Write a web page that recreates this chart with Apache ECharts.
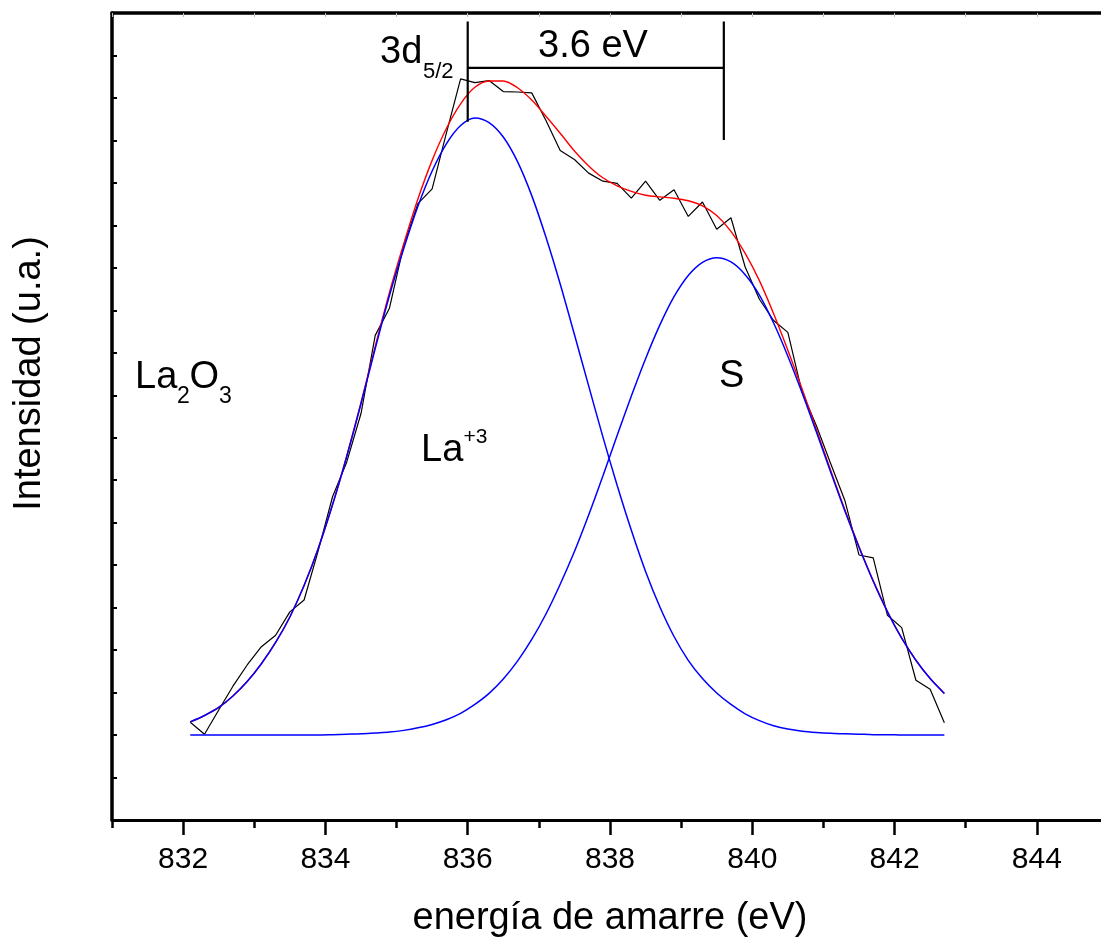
<!DOCTYPE html>
<html>
<head>
<meta charset="utf-8">
<title>La 3d5/2 XPS</title>
<script src="https://cdn.jsdelivr.net/npm/echarts@6/dist/echarts.min.js"></script>
<style>
  html, body { margin: 0; padding: 0; background: #fff; }
  #chart { width: 1101px; height: 944px; }
</style>
</head>
<body>
<div id="chart"></div>
<script>
// Binding energy grid (eV)
const energy = [832.1, 832.3, 832.5, 832.7, 832.9, 833.1, 833.3, 833.5, 833.7, 833.9,
  834.1, 834.3, 834.5, 834.7, 834.9, 835.1, 835.3, 835.5, 835.7, 835.9,
  836.1, 836.3, 836.5, 836.7, 836.9, 837.1, 837.3, 837.5, 837.7, 837.9,
  838.1, 838.3, 838.5, 838.7, 838.9, 839.1, 839.3, 839.5, 839.7, 839.9,
  840.1, 840.3, 840.5, 840.7, 840.9, 841.1, 841.3, 841.5, 841.7, 841.9,
  842.1, 842.3, 842.5, 842.7];

// Measured spectrum (arb. units)
const measured = [2.30, 2.02, 2.59, 3.15, 3.65, 4.08, 4.35, 4.90, 5.18, 6.35,
  7.61, 8.43, 9.57, 11.41, 12.05, 13.53, 14.51, 14.86, 16.17, 17.45,
  17.36, 17.41, 17.15, 17.14, 17.12, 16.47, 15.76, 15.55, 15.23, 15.04,
  14.99, 14.64, 15.04, 14.59, 14.84, 14.21, 14.55, 13.91, 14.18, 13.02,
  12.26, 11.76, 11.48, 10.07, 9.29, 8.40, 7.53, 6.24, 6.17, 4.82,
  4.53, 3.29, 3.08, 2.29];

// La+3 component
const la3 = [2.31, 2.46, 2.65, 2.92, 3.26, 3.68, 4.18, 4.78, 5.52, 6.40,
  7.42, 8.56, 9.80, 11.10, 12.35, 13.45, 14.45, 15.28, 15.92, 16.35,
  16.53, 16.42, 16.08, 15.50, 14.70, 13.72, 12.62, 11.43, 10.22, 9.02,
  7.88, 6.82, 5.85, 5.02, 4.32, 3.76, 3.33, 2.99, 2.72, 2.50,
  2.34, 2.22, 2.14, 2.09, 2.06, 2.04, 2.03, 2.02, 2.01, 2.01,
  2.00, 2.00, 2.00, 2.00];

// Satellite (S) component
const satellite = [2.00, 2.00, 2.00, 2.00, 2.00, 2.00, 2.00, 2.00, 2.00, 2.00,
  2.01, 2.02, 2.03, 2.05, 2.07, 2.11, 2.17, 2.25, 2.36, 2.51,
  2.72, 2.98, 3.32, 3.74, 4.25, 4.85, 5.55, 6.32, 7.18, 8.10,
  9.05, 9.98, 10.86, 11.65, 12.32, 12.82, 13.13, 13.24, 13.14, 12.84,
  12.36, 11.70, 10.92, 10.06, 9.14, 8.20, 7.28, 6.42, 5.62, 4.90,
  4.28, 3.76, 3.33, 2.98];

// Fitted envelope
const envelope = [2.31, 2.46, 2.65, 2.92, 3.26, 3.68, 4.18, 4.78, 5.52, 6.40,
  7.43, 8.58, 9.83, 11.15, 12.42, 13.56, 14.62, 15.53, 16.28, 16.86,
  17.25, 17.40, 17.40, 17.24, 16.95, 16.57, 16.17, 15.75, 15.40, 15.12,
  14.93, 14.80, 14.71, 14.67, 14.64, 14.58, 14.46, 14.23, 13.86, 13.34,
  12.70, 11.92, 11.06, 10.15, 9.20, 8.24, 7.31, 6.44, 5.63, 4.91,
  4.28, 3.76, 3.33, 2.98];

// Axis ticks
const xMajorTicks = [832, 834, 836, 838, 840, 842, 844];
const xMinorTicks = [831, 833, 835, 837, 839, 841, 843, 845];

// Spin-orbit splitting bracket
const splitStart = 836.0;
const splitting = 3.6;
const bracketTop = 18.8;
const bracketBar = 17.71;
const bracketLeftBottom = 16.44;
const bracketRightBottom = 16.01;

const FONT = '"Liberation Sans", Arial, Helvetica, sans-serif';
const zip = ys => energy.map((x, i) => [x, ys[i]]);
const splitEnd = splitStart + splitting;

function piece(text, x, baseline, size, align) {
  return {
    type: 'text', x: x, y: baseline - 0.31 * size, z: 100,
    style: { text: text, fill: '#000', font: size + 'px ' + FONT,
             align: align || 'left', verticalAlign: 'middle' }
  };
}

const chart = echarts.init(document.getElementById('chart'), null, { renderer: 'canvas' });

const bracketStyle = { color: '#000', width: 2.2 };
const lineSeries = (data, color, width, smooth, z) => ({
  type: 'line', data: data, showSymbol: false, symbol: 'none',
  smooth: smooth, lineStyle: { color: color, width: width }, z: z, silent: true
});
const segment = (a, b) => ({
  type: 'line', data: [a, b], showSymbol: false, symbol: 'none',
  lineStyle: bracketStyle, z: 5, silent: true
});

chart.setOption({
  animation: false,
  backgroundColor: '#fff',
  // the frame runs past the right edge of the canvas, so no bounds clamping
  grid: { left: 112, top: 13, width: 996, bottom: 124, containLabel: false, outerBoundsMode: 'none' },
  xAxis: [
    {
      type: 'value', min: 831, max: 845, position: 'bottom',
      axisLine: { onZero: false, lineStyle: { color: '#000', width: 3 } },
      axisTick: { customValues: xMajorTicks, length: 15, lineStyle: { color: '#000', width: 2.5 } },
      axisLabel: { customValues: xMajorTicks, fontSize: 30, fontFamily: FONT, color: '#000', margin: 25 },
      splitLine: { show: false },
      name: 'energía de amarre (eV)', nameLocation: 'middle', nameGap: 80,
      nameTextStyle: { fontSize: 38, fontFamily: FONT, color: '#000' }
    },
    {
      type: 'value', min: 831, max: 845, position: 'bottom',
      axisLine: { show: false, onZero: false },
      axisTick: { customValues: xMinorTicks, length: 8, lineStyle: { color: '#000', width: 2.5 } },
      axisLabel: { show: false },
      splitLine: { show: false }
    },
    {
      type: 'value', min: 831, max: 845, interval: 1, position: 'top',
      axisLine: { onZero: false, lineStyle: { color: '#000', width: 3.5 } },
      axisTick: { inside: true, length: 4, lineStyle: { color: '#bdbdbd', width: 1 } },
      axisLabel: { show: false },
      splitLine: { show: false }
    }
  ],
  yAxis: {
    type: 'value', min: 0, max: 19, interval: 1, position: 'left',
    axisLine: { onZero: false, lineStyle: { color: '#000', width: 3.5 } },
    axisTick: { inside: true, length: 5, lineStyle: { color: '#000', width: 2 } },
    axisLabel: { show: false },
    splitLine: { show: false }
  },
  series: [
    lineSeries(zip(measured), '#000000', 1.2, false, 2),
    lineSeries(zip(envelope), '#ff0000', 1.4, 0.3, 3),
    lineSeries(zip(la3), '#0000ff', 1.5, 0.3, 4),
    lineSeries(zip(satellite), '#0000ff', 1.5, 0.3, 4),
    segment([splitStart, bracketTop], [splitStart, bracketLeftBottom]),
    segment([splitEnd, bracketTop], [splitEnd, bracketRightBottom]),
    segment([splitStart, bracketBar], [splitEnd, bracketBar])
  ],
  graphic: [
    {
      type: 'text', x: 30, y: 373.5, rotation: Math.PI / 2, z: 100,
      style: { text: 'Intensidad (u.a.)', fill: '#000', font: '38px ' + FONT,
               align: 'center', verticalAlign: 'middle' }
    },
    piece('La', 135, 389.5, 38),
    piece('2', 177, 403.3, 23),
    piece('O', 189.5, 389.5, 38),
    piece('3', 219, 403.3, 23),
    piece('3d', 380, 64, 38),
    piece('5/2', 423, 79, 22),
    piece('La', 421, 462.7, 38),
    piece('+3', 463.5, 443.3, 21),
    piece('S', 719, 388.3, 38),
    piece(splitting.toFixed(1) + ' eV', 593, 58, 38, 'center')
  ]
});
</script>
</body>
</html>
